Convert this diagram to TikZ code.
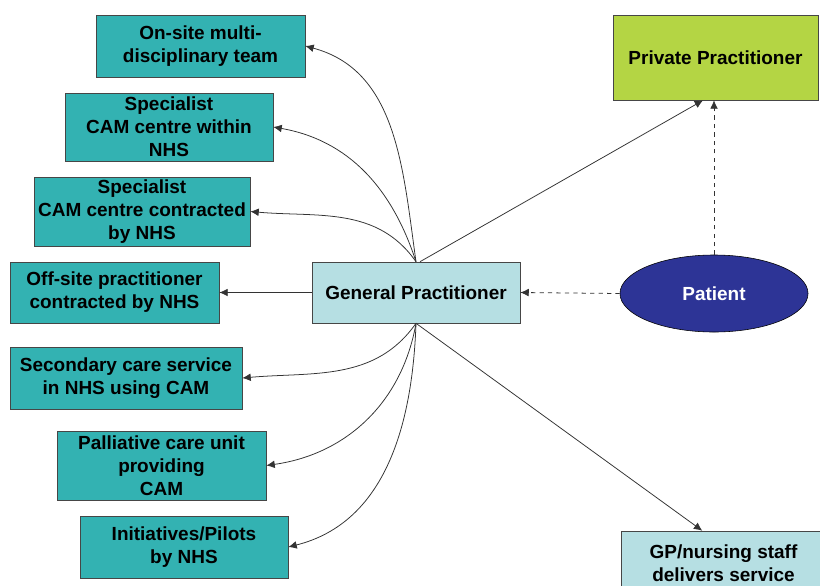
\documentclass[tikz,border=0pt]{standalone}
\usepackage{fontspec}
\setmainfont{Liberation Sans}
\usetikzlibrary{shapes.geometric,arrows.meta}
\definecolor{camteal}{RGB}{51,178,178}
\definecolor{gpblue}{RGB}{182,223,227}
\definecolor{privgreen}{RGB}{180,213,68}
\definecolor{patnavy}{RGB}{45,52,150}
\definecolor{edgegray}{RGB}{70,70,70}
\tikzset{
  service/.style={draw=edgegray, fill=camteal, align=center, inner sep=0pt,
    font=\fontsize{13.5}{16.3}\selectfont\bfseries},
  link/.style={draw=black!80, line width=0.55pt, ->}
}
\begin{document}
\begin{tikzpicture}[x=0.025cm,y=0.025cm,>={Latex[length=6pt,width=5.5pt]}]
            \useasboundingbox (0,0) rectangle (820,-585);
            \node[service, minimum width=5.225cm, minimum height=1.55cm] (onsite) at (200.5,-46){On-site multi-\\disciplinary team};
            \node[service, minimum width=5.2cm, minimum height=1.7cm] (within) at (169,-127){Specialist\\CAM centre within\\NHS};
            \node[service, minimum width=5.4cm, minimum height=1.725cm] (contracted) at (142,-211.5){Specialist\\CAM centre contracted\\by NHS};
            \node[service, minimum width=5.225cm, minimum height=1.525cm] (offsite) at (114.5,-292.5){Off-site practitioner\\contracted by NHS};
            \node[service, minimum width=5.8cm, minimum height=1.55cm] (secondary) at (126,-378){Secondary care service\\in NHS using CAM};
            \node[service, minimum width=5.225cm, minimum height=1.725cm] (palliative) at (161.5,-465.5){Palliative care unit\\providing\\CAM};
            \node[service, minimum width=5.2cm, minimum height=1.55cm] (pilots) at (184,-547){Initiatives/Pilots\\by NHS};
            \node[service, fill=gpblue, minimum width=5.2cm, minimum height=1.525cm] (gp) at (416,-292.5){General Practitioner};
            \node[service, fill=privgreen, minimum width=5.125cm, minimum height=2.125cm] (private) at (715.5,-57.5){Private Practitioner};
            \node[service, fill=gpblue, minimum width=5.125cm, minimum height=1.625cm] (nursing) at (723.5,-563.5){GP/nursing staff\\delivers service};
            \node[ellipse, draw=black, fill=patnavy, text=white, inner sep=0pt, minimum width=4.7cm, minimum height=1.925cm,
              font=\fontsize{13.5}{16.3}\selectfont\bfseries] (patient) at (714,-293.5){Patient};
            % referrals out of the GP
            \draw[link] (gp.north) to[out=98,in=-15] (onsite.east);
            \draw[link] (gp.north) to[out=108,in=-10] (within.east);
            \draw[link] (gp.north) to[out=125,in=-5] (contracted.east);
            \draw[link] (gp.west) -- (offsite.east);
            \draw[link] (gp.south) to[out=-125,in=5] (secondary.east);
            \draw[link] (gp.south) to[out=-100,in=8] (palliative.east);
            \draw[link] (gp.south) to[out=-92,in=14] (pilots.east);
            \draw[link] ([xshift=0.1cm]gp.north) -- ([xshift=-0.31cm]private.south);
            \draw[link] (gp.south) -- ([xshift=-0.53cm]nursing.north);
            % patient routes
            \draw[link, dashed] (patient.west) -- (gp.east);
            \draw[link, dashed] (patient.north) -- (patient.north |- private.south);
        \end{tikzpicture}
\end{document}
